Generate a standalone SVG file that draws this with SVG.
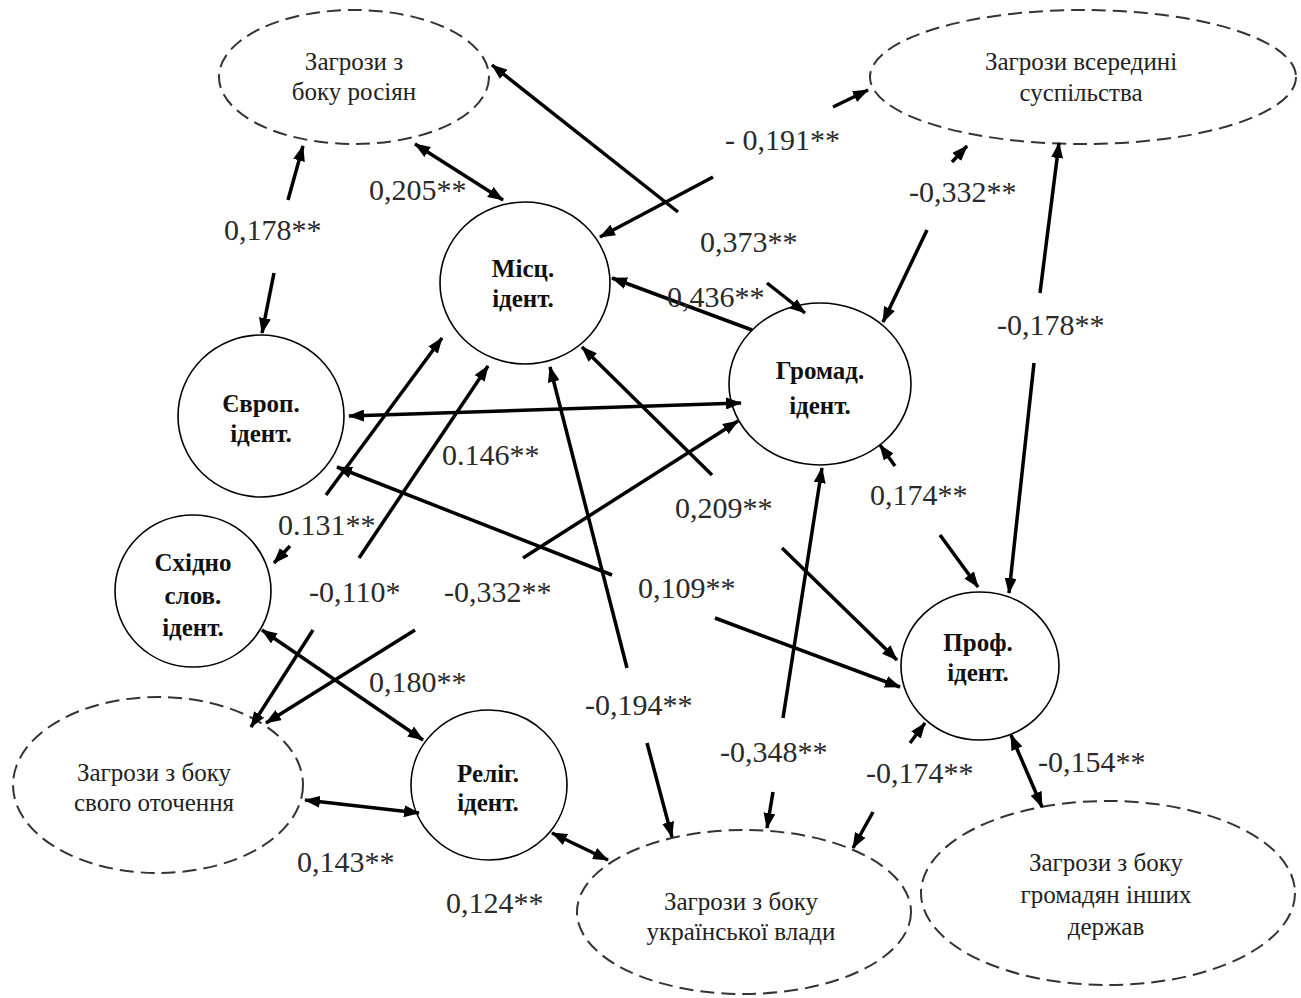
<svg xmlns="http://www.w3.org/2000/svg" width="1301" height="998" viewBox="0 0 1301 998">
<style>
.bg{fill:#fff}
.n{fill:#fff;stroke:#000;stroke-width:1.6}
.d{fill:#fff;stroke:#333;stroke-width:2;stroke-dasharray:14 7}
.nt{font-family:"Liberation Serif","Times New Roman",serif;font-size:25px;font-weight:bold;fill:#111;text-anchor:middle}
.dt{font-family:"Liberation Serif","Times New Roman",serif;font-size:25px;fill:#222;text-anchor:middle}
.l{font-family:"Liberation Serif","Times New Roman",serif;font-size:30px;fill:#2a2a2a}
.c{stroke:#000;stroke-width:3.5;fill:none;marker-end:url(#ah)}
.b{stroke:#000;stroke-width:3.5;fill:none;marker-end:url(#ah);marker-start:url(#ah)}
</style>
<defs>
<marker id="ah" markerUnits="userSpaceOnUse" markerWidth="16" markerHeight="12" refX="15" refY="6" orient="auto-start-reverse">
<path d="M0,0 L16,6 L0,12 Z" fill="#000"/>
</marker>
</defs>
<rect class="bg" x="0" y="0" width="1301" height="998"/>

<g id="n-rosiian"><ellipse class="d" cx="354" cy="77" rx="135" ry="67"/><text class="dt" x="354" y="70">Загрози з</text><text class="dt" x="354" y="100">боку росіян</text></g>
<g id="n-vseredyni"><ellipse class="d" cx="1083" cy="77" rx="213" ry="67"/><text class="dt" x="1081" y="70">Загрози всередині</text><text class="dt" x="1081" y="101">суспільства</text></g>
<g id="n-mists"><ellipse class="n" cx="525" cy="283" rx="85" ry="81"/><text class="nt" x="523" y="277">Місц.</text><text class="nt" x="523" y="307">ідент.</text></g>
<g id="n-hromad"><ellipse class="n" cx="820" cy="384" rx="91" ry="81"/><text class="nt" x="820" y="379">Громад.</text><text class="nt" x="820" y="414">ідент.</text></g>
<g id="n-yevrop"><ellipse class="n" cx="261" cy="416" rx="83" ry="81"/><text class="nt" x="261" y="412">Європ.</text><text class="nt" x="261" y="442">ідент.</text></g>
<g id="n-skhidno"><ellipse class="n" cx="193" cy="591" rx="78" ry="76"/><text class="nt" x="193" y="571">Східно</text><text class="nt" x="193" y="604">слов.</text><text class="nt" x="193" y="636">ідент.</text></g>
<g id="n-prof"><ellipse class="n" cx="980" cy="666" rx="79" ry="74"/><text class="nt" x="978" y="651">Проф.</text><text class="nt" x="978" y="681">ідент.</text></g>
<g id="n-relig"><ellipse class="n" cx="489" cy="785" rx="78" ry="75"/><text class="nt" x="488" y="782">Реліг.</text><text class="nt" x="488" y="811">ідент.</text></g>
<g id="n-otochennia"><ellipse class="d" cx="158" cy="785" rx="145" ry="88"/><text class="dt" x="154" y="781">Загрози з боку</text><text class="dt" x="154" y="811">свого оточення</text></g>
<g id="n-vlada"><ellipse class="d" cx="744" cy="912" rx="167" ry="82"/><text class="dt" x="741" y="910">Загрози з боку</text><text class="dt" x="741" y="940">української влади</text></g>
<g id="n-inshi"><ellipse class="d" cx="1108" cy="893" rx="187" ry="92"/><text class="dt" x="1106" y="871">Загрози з боку</text><text class="dt" x="1106" y="903">громадян інших</text><text class="dt" x="1106" y="935">держав</text></g>

<g id="connectors">
<line class="c" x1="288" y1="200" x2="303" y2="146"/>
<line class="c" x1="274" y1="273" x2="262" y2="333"/>
<line class="b" x1="415" y1="144" x2="503" y2="200"/>
<line class="c" x1="678" y1="212" x2="492" y2="65"/>
<line class="c" x1="767" y1="283" x2="805" y2="313"/>
<line class="c" x1="833" y1="107" x2="868" y2="90"/>
<line class="c" x1="713" y1="177" x2="600" y2="237"/>
<line class="c" x1="752" y1="330" x2="612" y2="278"/>
<line class="c" x1="952" y1="162" x2="967" y2="146"/>
<line class="c" x1="927" y1="230" x2="883" y2="322"/>
<line class="c" x1="1040" y1="293" x2="1059" y2="143"/>
<line class="c" x1="1034" y1="363" x2="1009" y2="593"/>
<line class="b" x1="349" y1="416" x2="741" y2="403"/>
<line class="c" x1="612" y1="575" x2="337" y2="467"/>
<line class="c" x1="715" y1="618" x2="900" y2="687"/>
<line class="c" x1="326" y1="495" x2="442" y2="338"/>
<line class="c" x1="290" y1="546" x2="274" y2="563"/>
<line class="c" x1="359" y1="558" x2="488" y2="366"/>
<line class="c" x1="313" y1="630" x2="251" y2="727"/>
<line class="c" x1="523" y1="558" x2="738" y2="421"/>
<line class="c" x1="415" y1="630" x2="266" y2="723"/>
<line class="c" x1="627" y1="668" x2="550" y2="367"/>
<line class="c" x1="647" y1="743" x2="672" y2="837"/>
<line class="c" x1="712" y1="475" x2="582" y2="347"/>
<line class="c" x1="782" y1="548" x2="897" y2="660"/>
<line class="c" x1="783" y1="718" x2="822" y2="468"/>
<line class="c" x1="773" y1="792" x2="767" y2="828"/>
<line class="c" x1="895" y1="466" x2="880" y2="445"/>
<line class="c" x1="940" y1="535" x2="978" y2="587"/>
<line class="c" x1="910" y1="743" x2="925" y2="723"/>
<line class="c" x1="873" y1="812" x2="853" y2="848"/>
<line class="b" x1="1011" y1="735" x2="1042" y2="807"/>
<line class="b" x1="262" y1="630" x2="423" y2="740"/>
<line class="b" x1="305" y1="800" x2="419" y2="813"/>
<line class="b" x1="552" y1="833" x2="608" y2="860"/>
</g>

<g id="labels">
<text class="l" x="224" y="240">0,178**</text>
<text class="l" x="369" y="200">0,205**</text>
<text class="l" x="725" y="150">- 0,191**</text>
<text class="l" x="909" y="202">-0,332**</text>
<text class="l" x="700" y="252">0,373**</text>
<text class="l" x="667" y="307">0,436**</text>
<text class="l" x="997" y="335">-0,178**</text>
<text class="l" x="442" y="465">0.146**</text>
<text class="l" x="278" y="535">0.131**</text>
<text class="l" x="309" y="602">-0,110*</text>
<text class="l" x="444" y="602">-0,332**</text>
<text class="l" x="675" y="518">0,209**</text>
<text class="l" x="870" y="505">0,174**</text>
<text class="l" x="638" y="598">0,109**</text>
<text class="l" x="369" y="692">0,180**</text>
<text class="l" x="585" y="715">-0,194**</text>
<text class="l" x="720" y="762">-0,348**</text>
<text class="l" x="866" y="783">-0,174**</text>
<text class="l" x="1038" y="772">-0,154**</text>
<text class="l" x="297" y="872">0,143**</text>
<text class="l" x="446" y="913">0,124**</text>
</g>
</svg>
